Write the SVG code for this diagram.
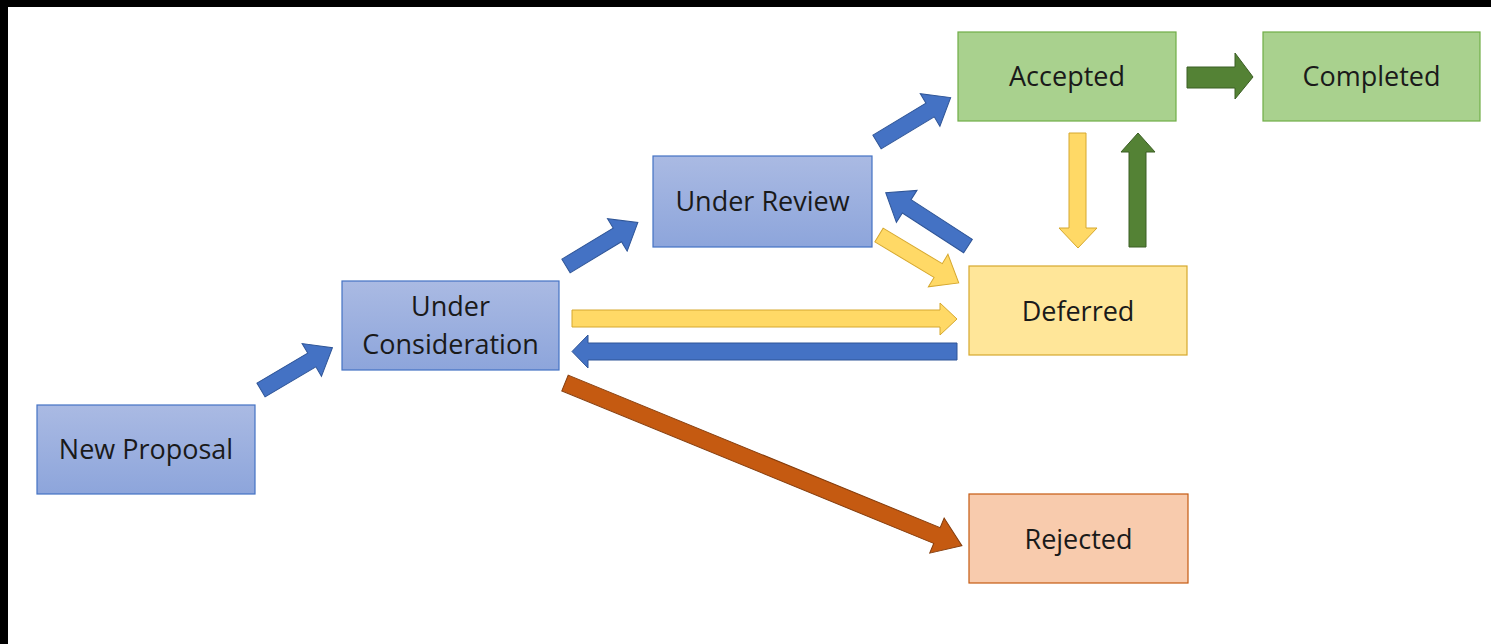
<svg xmlns="http://www.w3.org/2000/svg" width="1491" height="644" viewBox="0 0 1491 644">
<style>
.lbl{font-family:"Open Sans","Liberation Sans",sans-serif;font-size:27px;fill:#1a1a1a;text-anchor:middle}
.blue{fill:url(#gb);stroke:#4472C4;stroke-width:1.2}
.green{fill:#A9D18E;stroke:#70AD47;stroke-width:1.2}
.yellow{fill:#FFE699;stroke:#D6A82E;stroke-width:1.2}
.orange{fill:#F8CBAD;stroke:#C55A11;stroke-width:1.2}
.ab{fill:#4472C4;stroke:#2F5597;stroke-width:1}
.ay{fill:#FFD966;stroke:#D6A82E;stroke-width:1}
.ag{fill:#548235;stroke:#3B5E24;stroke-width:1}
.ao{fill:#C55A11;stroke:#843C0C;stroke-width:1}
</style>
<defs>
<linearGradient id="gb" x1="0" y1="0" x2="0" y2="1">
<stop offset="0" stop-color="#AABAE3"/>
<stop offset="1" stop-color="#8DA5DB"/>
</linearGradient>
</defs>
<rect x="0" y="0" width="1491" height="644" fill="#ffffff"/>
<rect x="0" y="0" width="1491" height="7" fill="#000000"/>
<rect x="0" y="0" width="8" height="644" fill="#000000"/>

<g id="connectors">
<path class="ab" transform="translate(261,390) rotate(-30.6)" d="M0,-8 L59,-8 L59,-19 L83,0 L59,19 L59,8 L0,8 Z"/>
<path class="ab" transform="translate(566,266) rotate(-31.2)" d="M0,-8 L60,-8 L60,-19 L84,0 L60,19 L60,8 L0,8 Z"/>
<path class="ab" transform="translate(877,142) rotate(-31.1)" d="M0,-8 L62,-8 L62,-19 L86,0 L62,19 L62,8 L0,8 Z"/>
<path class="ab" transform="translate(968,246) rotate(-147.1)" d="M0,-8 L73,-8 L73,-19 L98,0 L73,19 L73,8 L0,8 Z"/>
<path class="ay" transform="translate(879,235) rotate(31)" d="M0,-8 L69,-8 L69,-19 L93,0 L69,19 L69,8 L0,8 Z"/>
<path class="ao" transform="translate(565,383) rotate(22.3)" d="M0,-8.5 L402,-8.5 L402,-19 L429,0 L402,19 L402,8.5 L0,8.5 Z"/>
<path class="ay" d="M572,310 L940,310 L940,303 L957,319 L940,335 L940,327 L572,327 Z"/>
<path class="ab" d="M957,343 L588,343 L588,335 L572,351.5 L588,368 L588,360 L957,360 Z"/>
<path class="ay" d="M1069,133 L1086,133 L1086,228 L1097,228 L1078,248 L1059,228 L1069,228 Z"/>
<path class="ag" d="M1129,247 L1146,247 L1146,152 L1155,152 L1138,133 L1121,152 L1129,152 Z"/>
<path class="ag" d="M1187,67 L1235,67 L1235,53 L1253,77 L1235,99 L1235,88 L1187,88 Z"/>
</g>

<g id="new-proposal">
<rect class="blue" x="37" y="405" width="218" height="89"/>
<text class="lbl" x="146" y="459">New Proposal</text>
</g>
<g id="under-consideration">
<rect class="blue" x="342" y="281" width="217" height="89"/>
<text class="lbl" x="450.5" y="316">Under</text>
<text class="lbl" x="450.5" y="354">Consideration</text>
</g>
<g id="under-review">
<rect class="blue" x="653" y="156" width="219" height="91"/>
<text class="lbl" x="762.5" y="211">Under Review</text>
</g>
<g id="accepted">
<rect class="green" x="958" y="32" width="218" height="89"/>
<text class="lbl" x="1067" y="86">Accepted</text>
</g>
<g id="completed">
<rect class="green" x="1263" y="32" width="217" height="89"/>
<text class="lbl" x="1371.5" y="86">Completed</text>
</g>
<g id="deferred">
<rect class="yellow" x="969" y="266" width="218" height="89"/>
<text class="lbl" x="1078" y="321">Deferred</text>
</g>
<g id="rejected">
<rect class="orange" x="969" y="494" width="219" height="89"/>
<text class="lbl" x="1078.5" y="549">Rejected</text>
</g>
</svg>
